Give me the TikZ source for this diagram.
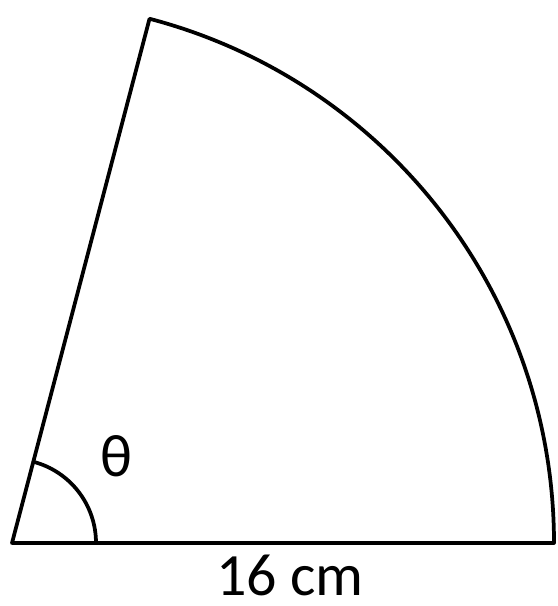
\documentclass[tikz,border=0pt]{standalone}
\usepackage{fontspec}
\setmainfont{Carlito}
\usetikzlibrary{calc}
\begin{document}
\begin{tikzpicture}[x=0.75pt,y=0.75pt,
  edge/.style={line width=2.8pt,line join=round,line cap=round},
  lbl/.style={inner sep=0pt,font=\fontsize{45}{54}\selectfont}]
\useasboundingbox (0,0) rectangle (557,606);
\coordinate (O) at (12,63);
\coordinate (B) at (554,63);
\coordinate (T) at ($(O)+(75.3:542)$);
\draw[edge] (T) -- (O) -- (B) arc[start angle=0,end angle=75.3,radius=542];
\draw[edge] ($(O)+(0:84)$) arc[start angle=0,end angle=75.3,radius=84];
\node[lbl] (theta) at (116,150) {θ};
\node[lbl,anchor=base] (len) at (290,10) {16 cm};
\end{tikzpicture}
\end{document}
